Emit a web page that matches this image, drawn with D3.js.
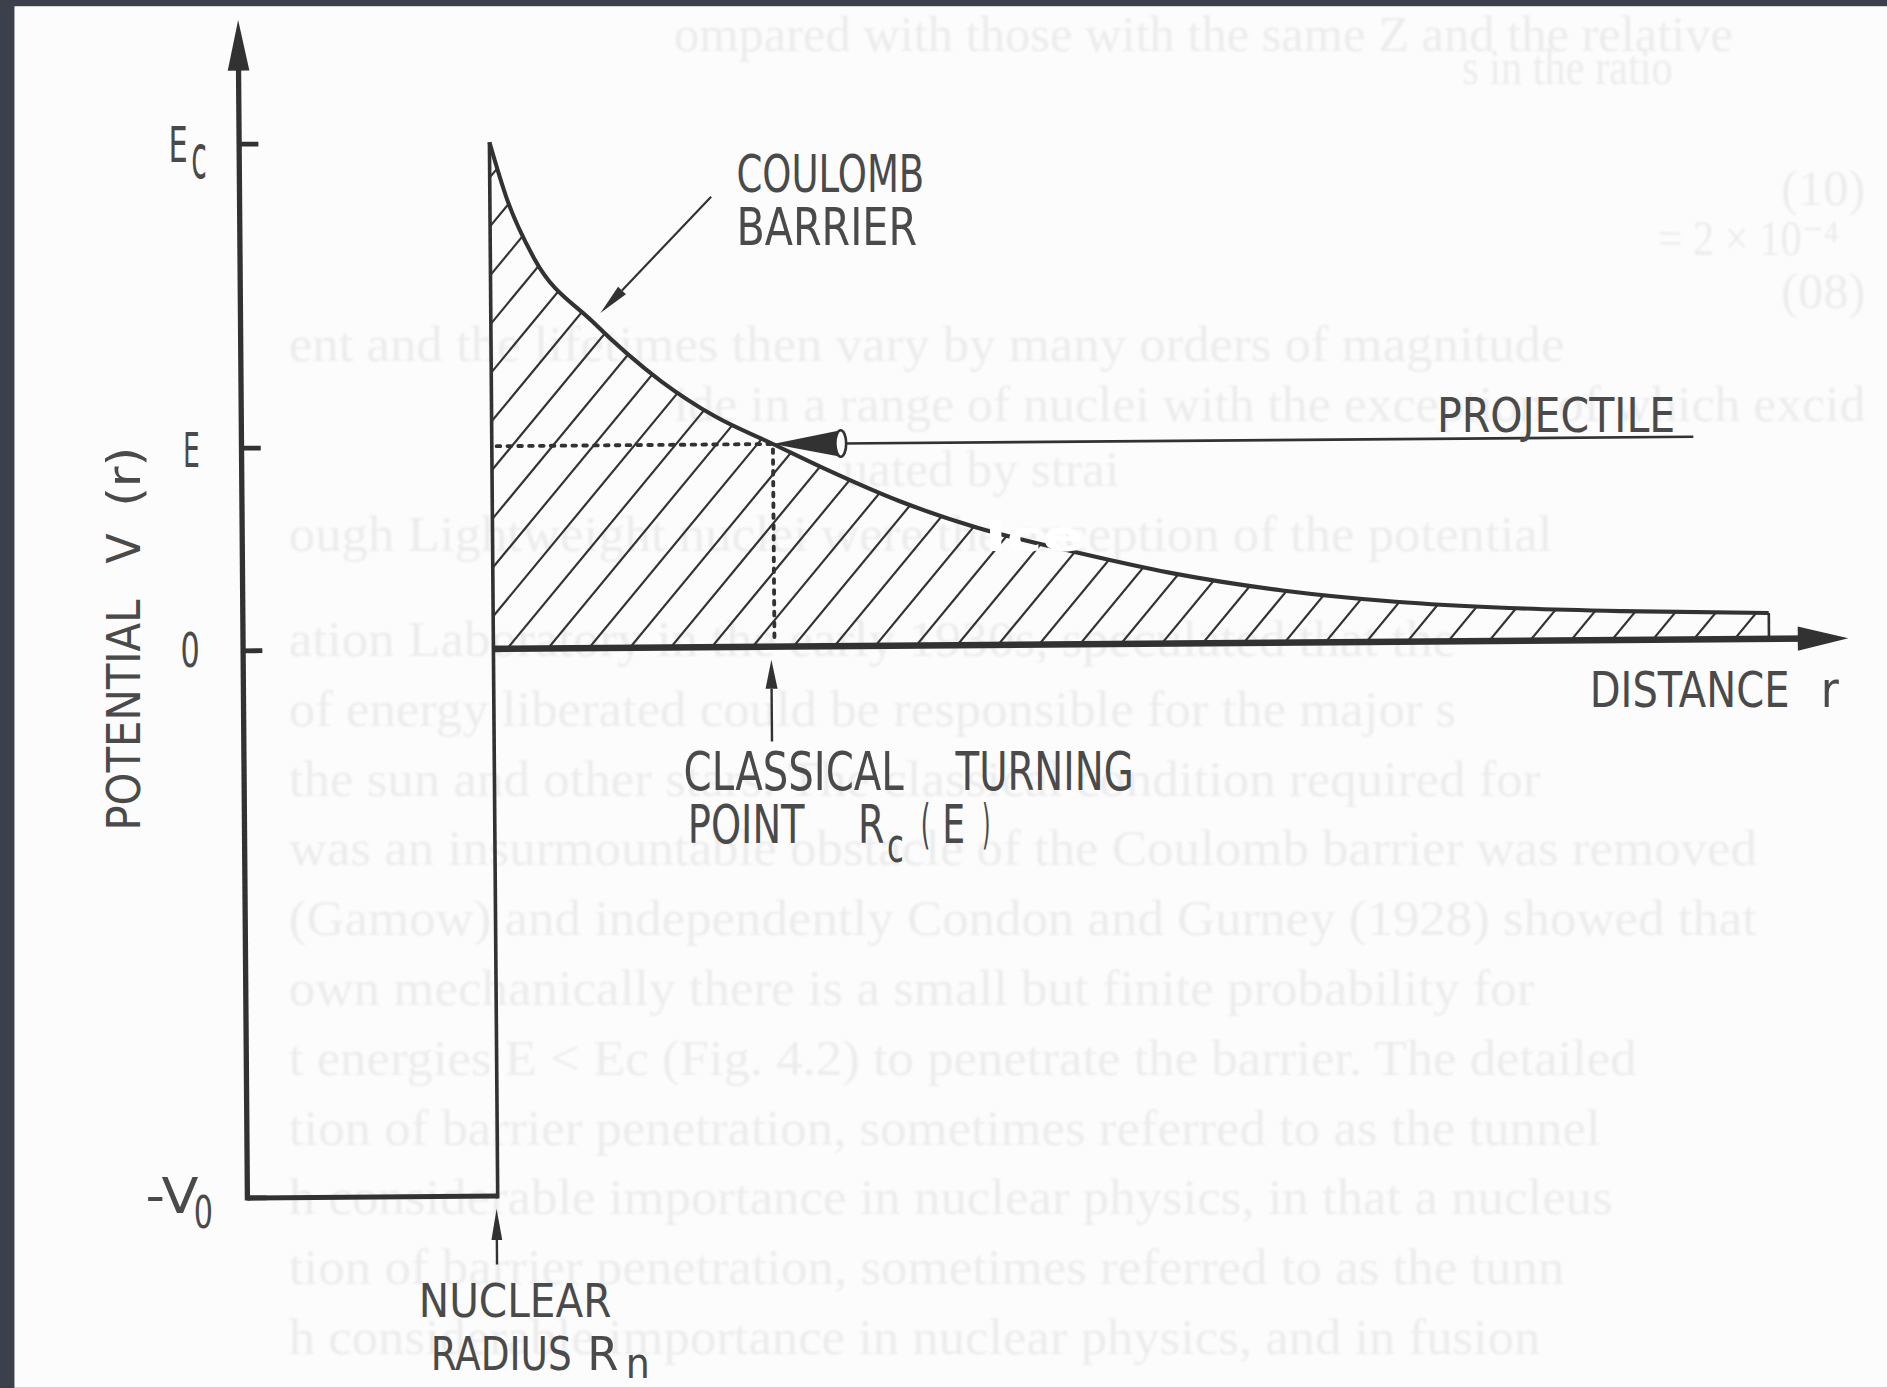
<html>
<head>
<meta charset="utf8">
<style>
body { margin: 0; background: #3c404b; }
svg { display: block; }
</style>
</head>
<body>
<div id="canvas"></div>
<script src="https://cdn.jsdelivr.net/npm/d3@7"></script>
<script>

// barrier curve: r in units of R_n, V in units of E_c
const barrierR = [1.0, 1.07, 1.175, 1.405, 1.680, 1.894, 2.123, 2.322, 2.628, 2.934, 3.343, 3.702, 4.154, 4.606, 5.058, 5.510, 6.096];
const barrierV = [1.0, 0.885, 0.77, 0.645, 0.525, 0.455, 0.40, 0.352, 0.285, 0.232, 0.180, 0.140, 0.103, 0.079, 0.065, 0.057, 0.051];

// levels on the potential axis
const tickNames = ['Ec', 'E', '0', '-V0'];
const tickValues = [1.0, 0.40, 0, -1.08];

const rNucleus = 1.0;     // nuclear radius R_n
const rTurning = 2.123;   // classical turning point R_c(E)
const energyE = 0.40;
const depthV0 = -1.08;
const rAxisEnd = 6.413;
const vAxisEnd = 1.245;
const projectileFrom = 5.80;
const projectileCone = 2.394;

// faint print showing through from the next page: x, baseline, width, text
const ghostRows = [
    [560, 42, 880, "ompared  with  those  with  the  same  Z  and  the  relative"],
    [1215, 70, 175, "s in the ratio"],
    [1480, 170, 70, "(10)"],
    [1378, 212, 150, "= 2 × 10⁻⁴"],
    [1480, 256, 70, "(08)"],
    [240, 300, 1060, "ent  and  the  lifetimes  then  vary  by  many  orders  of  magnitude"],
    [560, 350, 990, "ide  in  a  range  of  nuclei  with  the  exception  of  which  excid"],
    [700, 404, 230, "uated  by  strai"],
    [240, 458, 1050, "ough  Lightweight  nuclei  were  the  exception  of  the  potential"],
    [240, 545, 970, "ation  Laboratory  in  the  early  1930s,  speculated  that  the"],
    [240, 603, 970, "of  energy  liberated  could  be  responsible  for  the  major  s"],
    [240, 661, 1040, "the  sun  and  other  stars.  The  classical  condition  required  for"],
    [240, 719, 1220, "was  an  insurmountable  obstacle  of  the  Coulomb  barrier  was  removed"],
    [240, 777, 1220, "(Gamow)  and  independently  Condon  and  Gurney  (1928)  showed  that"],
    [240, 835, 1035, "own  mechanically  there  is  a  small  but  finite  probability  for"],
    [240, 893, 1120, "t  energies  E  <  Ec  (Fig.  4.2)  to  penetrate  the  barrier.  The  detailed"],
    [240, 951, 1090, "tion  of  barrier  penetration,  sometimes  referred  to  as  the  tunnel"],
    [240, 1009, 1100, "h  considerable  importance  in  nuclear  physics,  in  that  a  nucleus"],
    [240, 1067, 1060, "tion  of  barrier  penetration,  sometimes  referred  to  as  the  tunn"],
    [240, 1125, 1040, "h  considerable  importance  in  nuclear  physics,  and  in  fusion"]
];

const W = 1568, H = 1153;
const ink = "#323232";
const textInk = "#4a4a4a";
const font = "'DejaVu Sans Condensed', 'Liberation Sans Narrow', 'DejaVu Sans', sans-serif";

const svg = d3.select("#canvas").append("svg")
    .attr("width", 1887)
    .attr("height", 1388)
    .attr("viewBox", `0 0 ${W} ${H}`);

svg.append("defs").append("filter")
    .attr("id", "soft")
    .append("feGaussianBlur").attr("stdDeviation", 1.1);

// scanned page on a dark background
svg.append("rect").attr("width", W).attr("height", H).attr("fill", "#3c404b");
svg.append("rect").attr("x", 12).attr("y", 5).attr("width", W - 12).attr("height", H - 5).attr("fill", "#fcfcfc");

svg.append("g")
    .attr("filter", "url(#soft)")
    .selectAll("text")
    .data(ghostRows)
    .join("text")
    .attr("x", d => d[0])
    .attr("y", d => d[1])
    .attr("textLength", d => d[2])
    .attr("lengthAdjust", "spacingAndGlyphs")
    .attr("font-family", "'Liberation Serif', 'DejaVu Serif', serif")
    .attr("font-size", 42)
    .attr("fill", "#ececec")
    .text(d => d[3]);

const xScale = d3.scaleLinear().domain([0, 1]).range([202, 410]);
const yScale = d3.scaleLinear().domain([0, 1]).range([539, 118]);

// the scan is turned a little, so the drawing is too
const main = svg.append("g")
    .attr("transform", `rotate(-0.45, ${xScale(rNucleus)}, ${yScale(0)})`);

const barrier = barrierR.map((r, i) => ({r: r, v: barrierV[i]}));

const area = d3.area()
    .x(d => xScale(d.r))
    .y0(yScale(0))
    .y1(d => yScale(d.v))
    .curve(d3.curveMonotoneX);

const line = d3.line()
    .x(d => xScale(d.r))
    .y(d => yScale(d.v))
    .curve(d3.curveMonotoneX);

main.append("clipPath").attr("id", "barrierClip")
    .append("path").attr("d", area(barrier));

// hatching under the barrier
const hatchStep = 34;
const slope = Math.tan(50 * Math.PI / 180);
const hatchTop = yScale(0) - yScale(1.05);
const hatchStarts = d3.range(xScale(rNucleus) - 400, xScale(barrierR[barrierR.length - 1]) + hatchStep, hatchStep);
main.append("g")
    .attr("clip-path", "url(#barrierClip)")
    .selectAll("line")
    .data(hatchStarts)
    .join("line")
    .attr("x1", d => d)
    .attr("y1", yScale(0) + 4)
    .attr("x2", d => d + (hatchTop + 4) / slope)
    .attr("y2", yScale(1.05))
    .attr("stroke", ink)
    .attr("stroke-width", 1.8);

// barrier curve
main.append("path")
    .datum(barrier)
    .attr("fill", "none")
    .attr("stroke", ink)
    .attr("stroke-width", 3.4)
    .attr("d", line);

const last = barrier[barrier.length - 1];
main.append("line")
    .attr("x1", xScale(last.r)).attr("x2", xScale(last.r))
    .attr("y1", yScale(last.v)).attr("y2", yScale(0))
    .attr("stroke", ink).attr("stroke-width", 2.2);

// square well and nuclear wall
main.append("path")
    .attr("fill", "none")
    .attr("stroke", ink)
    .attr("stroke-width", 4.2)
    .attr("d", `M${xScale(0)},${yScale(depthV0)} H${xScale(rNucleus)}`);
main.append("line")
    .attr("x1", xScale(rNucleus)).attr("x2", xScale(rNucleus))
    .attr("y1", yScale(depthV0) + 2).attr("y2", yScale(1.0))
    .attr("stroke", ink).attr("stroke-width", 3);

// potential axis
main.append("line")
    .attr("x1", xScale(0)).attr("x2", xScale(0))
    .attr("y1", yScale(depthV0) + 2).attr("y2", yScale(vAxisEnd) + 30)
    .attr("stroke", ink).attr("stroke-width", 4.4);
main.append("path")
    .attr("fill", ink)
    .attr("d", `M${xScale(0)},${yScale(vAxisEnd)} L${xScale(0) + 9},${yScale(vAxisEnd) + 42} L${xScale(0) - 9},${yScale(vAxisEnd) + 42} Z`);

main.append("g").selectAll("line")
    .data(tickValues)
    .join("line")
    .attr("x1", xScale(0))
    .attr("x2", xScale(0) + 16)
    .attr("y1", d => yScale(d))
    .attr("y2", d => yScale(d))
    .attr("stroke", ink)
    .attr("stroke-width", 4);

// distance axis
main.append("line")
    .attr("x1", xScale(rNucleus)).attr("x2", xScale(rAxisEnd) - 30)
    .attr("y1", yScale(0)).attr("y2", yScale(0))
    .attr("stroke", ink).attr("stroke-width", 5.5);
main.append("path")
    .attr("fill", ink)
    .attr("d", `M${xScale(rAxisEnd)},${yScale(0)} L${xScale(rAxisEnd) - 42},${yScale(0) - 10} L${xScale(rAxisEnd) - 42},${yScale(0) + 10} Z`);

// energy level and turning point, dotted
main.append("path")
    .attr("fill", "none")
    .attr("stroke", ink)
    .attr("stroke-width", 3.2)
    .attr("stroke-dasharray", "3 6")
    .attr("stroke-linecap", "round")
    .attr("d", `M${xScale(rNucleus) + 4},${yScale(energyE)} H${xScale(rTurning)} V${yScale(0) - 4}`);

// projectile coming in from the right
main.append("line")
    .attr("x1", xScale(projectileFrom)).attr("x2", xScale(projectileCone))
    .attr("y1", yScale(energyE)).attr("y2", yScale(energyE))
    .attr("stroke", ink).attr("stroke-width", 2.2);
const coneX = xScale(projectileCone), coneY = yScale(energyE);
main.append("path")
    .attr("fill", ink)
    .attr("d", `M${xScale(rTurning)},${coneY} L${coneX},${coneY - 11} L${coneX},${coneY + 11} Z`);
main.append("ellipse")
    .attr("cx", coneX).attr("cy", coneY)
    .attr("rx", 4.5).attr("ry", 11)
    .attr("fill", "#fcfcfc").attr("stroke", ink).attr("stroke-width", 2.2);

// pointer arrows
function arrow(x1, y1, x2, y2, len, half, width) {
    const a = Math.atan2(y2 - y1, x2 - x1);
    const bx = x2 - len * Math.cos(a), by = y2 - len * Math.sin(a);
    const px = -Math.sin(a) * half, py = Math.cos(a) * half;
    main.append("line")
        .attr("x1", x1).attr("y1", y1).attr("x2", bx).attr("y2", by)
        .attr("stroke", ink).attr("stroke-width", width);
    main.append("path")
        .attr("fill", ink)
        .attr("d", `M${x2},${y2} L${bx + px},${by + py} L${bx - px},${by - py} Z`);
}

// Coulomb barrier leader
arrow(xScale(1.884), yScale(0.889), xScale(1.438), yScale(0.661), 26, 4.5, 1.8);
// classical turning point
arrow(xScale(2.11), yScale(-0.187), xScale(2.11), yScale(-0.026), 24, 5, 2);
// nuclear radius
arrow(xScale(rNucleus) - 1, yScale(-1.215), xScale(rNucleus) - 1, yScale(-1.105), 26, 4.5, 2);

// white blemish of the scan over the curve
svg.append("text")
    .attr("x", 818).attr("y", 458)
    .attr("font-family", font)
    .attr("font-weight", "bold")
    .attr("font-size", 36)
    .attr("textLength", 82)
    .attr("lengthAdjust", "spacingAndGlyphs")
    .attr("fill", "#ffffff")
    .text("Ice");

// lettering
function label(x, y, str, len, size) {
    return svg.append("text")
        .attr("x", x).attr("y", y)
        .attr("font-family", font)
        .attr("font-size", size)
        .attr("textLength", len)
        .attr("lengthAdjust", "spacingAndGlyphs")
        .attr("fill", textInk)
        .text(str);
}

label(612, 159, "COULOMB", 156, 43);
label(612, 203.5, "BARRIER", 150, 43);
label(1194, 359, "PROJECTILE", 198, 40);
label(1321, 587, "DISTANCE", 166, 42);
label(1513, 587, "r", 15, 42);
label(568, 656, "CLASSICAL", 183, 44);
label(794, 656, "TURNING", 148, 44);
label(571.5, 700.5, "POINT", 97, 44);
label(713, 700.5, "R", 22, 44);
label(737, 716, "c", 14, 40);
label(765, 700.5, "(", 8, 44);
label(783, 700.5, "E", 19, 44);
label(816, 700.5, ")", 7, 44);
label(348, 1094, "NUCLEAR", 160, 39);
label(358, 1138, "RADIUS", 117, 39);
label(488, 1138, "R", 26, 39);
label(520, 1145, "n", 20, 36);

// axis level names
label(140, 134.3, tickNames[0].charAt(0), 16, 42);
label(159, 148, tickNames[0].charAt(1), 13, 50);
label(152, 388, tickNames[1], 14, 40);
label(150, 554, tickNames[2], 16, 40);
label(121, 1008, tickNames[3].slice(0, 2), 44, 42);
label(161, 1020, tickNames[3].slice(2), 16, 37);

// rotated axis title
const yTitle = [["POTENTIAL", 690, 192], ["V", 468, 25], ["(r)", 421, 50]];
svg.append("g").selectAll("text")
    .data(yTitle)
    .join("text")
    .attr("transform", d => `translate(116, ${d[1]}) rotate(-90)`)
    .attr("font-family", font)
    .attr("font-size", 39)
    .attr("textLength", d => d[2])
    .attr("lengthAdjust", "spacingAndGlyphs")
    .attr("fill", textInk)
    .text(d => d[0]);

</script>
</body>
</html>
